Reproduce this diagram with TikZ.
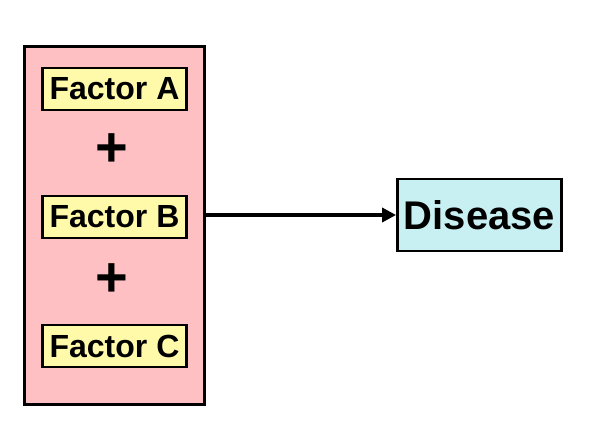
\documentclass[tikz,border=0pt]{standalone}
\usepackage{fontspec}
\setmainfont{Liberation Sans}
\usetikzlibrary{arrows.meta}
\definecolor{pinkbg}{RGB}{255,192,196}
\definecolor{factorbg}{RGB}{255,250,170}
\definecolor{disbg}{RGB}{200,240,242}
\begin{document}
\begin{tikzpicture}[x=1pt,y=-1pt,
  factor/.style={draw=black,line width=2.8pt,fill=factorbg,minimum width=144pt,minimum height=42pt,inner sep=0pt,font=\fontsize{32}{33}\selectfont\bfseries},
  plus/.style={font=\fontsize{56}{56}\selectfont\bfseries,inner sep=0pt}]
\useasboundingbox (0,0) rectangle (592,434);
\node[draw=black,line width=2.8pt,fill=pinkbg,minimum width=180pt,minimum height=358pt,inner sep=0pt] (group) at (114.5,225.5) {};
\node[factor] (fa) at (114.5,89) {Factor A};
\node[plus] (p1) at (112,150) {+};
\node[factor] (fb) at (114.5,217) {Factor B};
\node[plus] (p2) at (112,280) {+};
\node[factor] (fc) at (114.5,346) {Factor C};
\node[draw=black,line width=2.8pt,fill=disbg,minimum width=164pt,minimum height=72pt,inner sep=0pt,font=\fontsize{40}{41}\selectfont\bfseries] (dis) at (479.5,215) {Disease};
\draw[line width=3.4pt,-{Triangle[length=14pt,width=14pt]}] (group.east |- dis.west) -- (dis.west);
\end{tikzpicture}
\end{document}
